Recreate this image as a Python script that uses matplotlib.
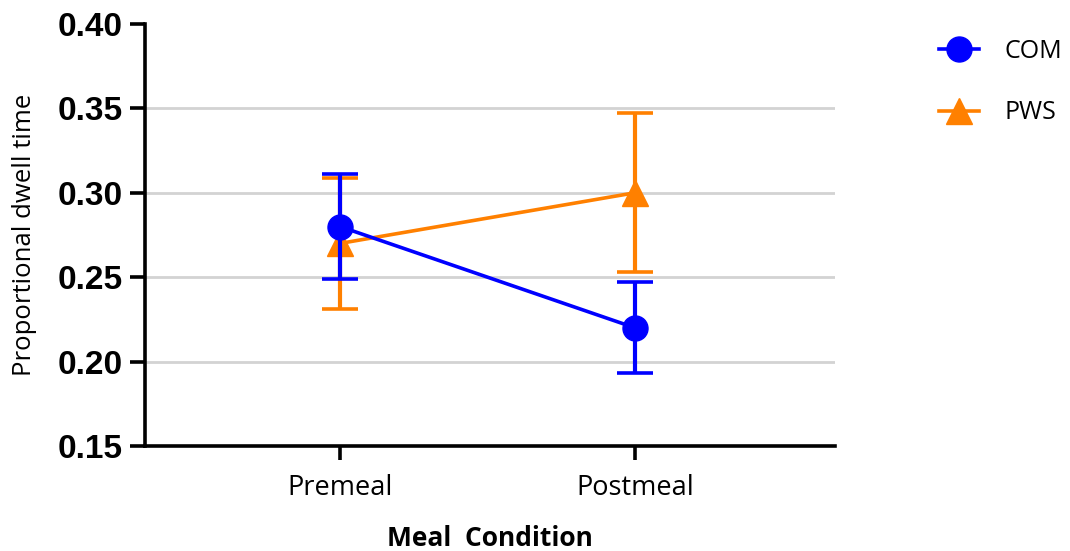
import matplotlib.pyplot as plt
from matplotlib.lines import Line2D

# data
conditions = ["Premeal", "Postmeal"]
com_mean = [0.280, 0.220]
com_err = [0.031, 0.027]
pws_mean = [0.270, 0.300]
pws_err = [0.039, 0.047]

blue = "#0000ff"
orange = "#ff8000"
txt_font = ["Open Sans", "DejaVu Sans"]

fig = plt.figure(figsize=(10.7, 5.51), dpi=100)
ax = fig.add_axes([0.1355, 0.1906, 0.6449, 0.7659])

x = list(range(len(conditions)))

# PWS first so COM sits on top
ax.errorbar(x, pws_mean, yerr=pws_err, fmt="none", ecolor=orange,
            elinewidth=3, capsize=13, capthick=2.6, zorder=3)
ax.plot(x, pws_mean, color=orange, lw=2.6, marker="^", ms=19, zorder=3)
ax.errorbar(x, com_mean, yerr=com_err, fmt="none", ecolor=blue,
            elinewidth=3, capsize=13, capthick=2.6, zorder=4)
ax.plot(x, com_mean, color=blue, lw=2.6, marker="o", ms=18, zorder=4)

ax.set_xlim(-0.661, 1.678)
ax.set_ylim(0.15, 0.40)
ax.set_yticks([0.15, 0.20, 0.25, 0.30, 0.35, 0.40])
ax.set_yticklabels(["%.2f" % v for v in ax.get_yticks()],
                   fontsize=24, fontweight="bold", family="Liberation Sans")
ax.set_xticks(x)
ax.set_xticklabels(conditions, fontsize=19.5, family=txt_font)

for v in [0.20, 0.25, 0.30, 0.35]:
    ax.axhline(v, color="#d3d3d3", lw=2, zorder=1)

for s in ["top", "right"]:
    ax.spines[s].set_visible(False)
for s in ["left", "bottom"]:
    ax.spines[s].set_linewidth(2.6)
ax.tick_params(axis="y", width=2.6, length=11, pad=5)
ax.tick_params(axis="x", width=2.6, length=10, pad=10)

ax.set_ylabel("Proportional dwell time", fontsize=18.5, family=txt_font, labelpad=15)
ax.set_xlabel("Meal  Condition", fontsize=19, fontweight="bold",
              family=txt_font, labelpad=17)

handles = [
    Line2D([], [], color=blue, lw=2.6, marker="o", ms=18),
    Line2D([], [], color=orange, lw=2.6, marker="^", ms=19),
]
fig.legend(handles, ["COM", "PWS"], loc="upper left",
           bbox_to_anchor=(0.857, 0.97), frameon=False,
           prop={"family": txt_font, "size": 18},
           handlelength=1.6, labelspacing=1.45, handletextpad=1.0)

plt.savefig("out.png", dpi=100)
